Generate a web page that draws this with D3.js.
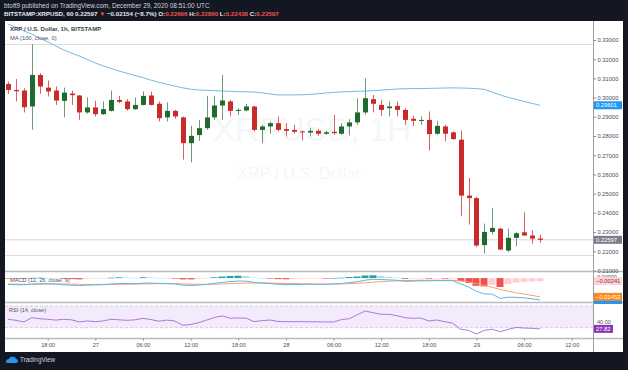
<!DOCTYPE html>
<html><head><meta charset="utf-8">
<script src="https://cdn.jsdelivr.net/npm/d3@7"></script>
<style>body{margin:0;background:#131722}svg{display:block;font-family:"Liberation Sans",Arial,sans-serif}</style>
</head><body>
<svg id="c" width="628" height="370"></svg>
<script>
// ---------- DATA ----------
const startTime = "2020-12-26T13:00:00Z"; // first visible hourly candle
const open = [.3071,.3040,.3037,.2954,.3118,.3052,.3037,.2983,.3021,.3011,
.2923,.2949,.2914,.2931,.2988,.2980,.2940,.2962,.3011,.2968,
.2897,.2931,.2897,.2763,.2805,.2841,.2897,.2959,.2980,.2931,
.2933,.2954,.2832,.2850,.2867,.2836,.2832,.2824,.2818,.2827,
.2812,.2822,.2812,.2850,.2871,.2923,.2992,.2962,.2945,.2957,
.2936,.2890,.2879,.2884,.2812,.2850,.2819,.2781,.2490,.2477,
.2232,.2301,.2318,.2204,.2270,.2299,.2282,.22666];
const high = [.3084,.3097,.3049,.3279,.3127,.3089,.3058,.3052,.3037,.3014,
.3002,.2983,.2980,.3037,.3009,.2992,.3000,.3032,.3032,.2980,
.2975,.2936,.2902,.2853,.2884,.3009,.3009,.3118,.2988,.2945,
.2967,.2957,.2858,.2876,.2902,.2867,.2858,.2829,.2841,.2836,
.2827,.2910,.2867,.2888,.2997,.3101,.3014,.2988,.2980,.2980,
.2945,.2905,.2902,.2928,.2879,.2858,.2824,.2829,.2581,.2483,
.2344,.2426,.2322,.2318,.2299,.2403,.2309,.22860];
const low = [.3020,.2980,.2923,.2833,.3020,.3006,.2962,.2897,.2962,.2884,
.2916,.2902,.2910,.2928,.2971,.2933,.2936,.2959,.2959,.2876,
.2876,.2890,.2677,.2663,.2775,.2833,.2884,.2884,.2902,.2910,
.2929,.2824,.2763,.2812,.2824,.2798,.2812,.2777,.2798,.2801,
.2806,.2806,.2806,.2803,.2858,.2910,.2923,.2905,.2902,.2902,
.2858,.2853,.2858,.2725,.2806,.2772,.2781,.2382,.2339,.2223,
.2188,.2287,.2206,.2195,.2226,.2282,.2240,.22438];
const close = [.3040,.3033,.2950,.3118,.3058,.3032,.2985,.3026,.3013,.2923,
.2949,.2914,.2940,.2988,.2978,.2940,.2962,.3009,.2962,.2893,
.2931,.2902,.2763,.2801,.2841,.2897,.2959,.2985,.2931,.2936,
.2954,.2832,.2850,.2867,.2832,.2827,.2822,.2820,.2827,.2812,
.2820,.2815,.2850,.2871,.2923,.2997,.2968,.2936,.2954,.2936,
.2884,.2879,.2884,.2810,.2853,.2812,.2784,.2490,.2477,.2230,
.2301,.2322,.2209,.2270,.2294,.2282,.2266,.22597];
const ma100 = [.3383,.3365,.3347,.3331,.3310,.3290,.3269,.3248,.3232,.3216,
.3198,.3180,.3165,.3152,.3138,.3127,.3115,.3104,.3091,.3080,
.3070,.3060,.3051,.3044,.3040,.3038,.3036,.3035,.3033,.3031,
.3030,.3029,.3025,.3019,.3014,.3014,.3014,.3015,.3017,.3020,
.3024,.3027,.3030,.3031,.3033,.3034,.3036,.3039,.3042,.3045,
.3046,.3047,.3047,.3048,.3049,.3050,.3051,.3050,.3049,.3047,
.3043,.3028,.3014,.3001,.2991,.2980,.2970,.29601];
const macd = [-0.0050,-0.0051,-0.0052,-0.0046,-0.0044,-0.0044,-0.0046,-0.0052,-0.0055,-0.0058,
-0.0055,-0.0053,-0.0051,-0.0046,-0.0042,-0.0043,-0.0044,-0.0039,-0.0039,-0.0041,
-0.0043,-0.0045,-0.0055,-0.0057,-0.0054,-0.0049,-0.0041,-0.0033,-0.0027,-0.0023,
-0.0024,-0.0034,-0.0038,-0.0042,-0.0048,-0.0051,-0.0050,-0.0049,-0.0048,-0.0048,
-0.0048,-0.0046,-0.0042,-0.0035,-0.0028,-0.0016,-0.0010,-0.0011,-0.0014,-0.0017,
-0.0025,-0.0023,-0.0021,-0.0021,-0.0020,-0.0020,-0.0019,-0.0045,-0.0068,-0.0103,
-0.0122,-0.0125,-0.0157,-0.0148,-0.0149,-0.0153,-0.0160,-0.01693];
const signal = [-0.0046,-0.0047,-0.0048,-0.0048,-0.0047,-0.0046,-0.0046,-0.0046,-0.0047,-0.0048,
-0.0049,-0.0049,-0.0049,-0.0049,-0.0048,-0.0047,-0.0046,-0.0045,-0.0044,-0.0043,
-0.0043,-0.0043,-0.0045,-0.0047,-0.0048,-0.0048,-0.0047,-0.0045,-0.0043,-0.0041,
-0.0039,-0.0038,-0.0038,-0.0039,-0.0040,-0.0042,-0.0043,-0.0044,-0.0045,-0.0046,
-0.0046,-0.0046,-0.0045,-0.0043,-0.0040,-0.0036,-0.0032,-0.0027,-0.0024,-0.0021,
-0.0019,-0.0018,-0.0017,-0.0017,-0.0017,-0.0017,-0.0017,-0.0022,-0.0030,-0.0043,
-0.0058,-0.0072,-0.0088,-0.0102,-0.0114,-0.0124,-0.0134,-0.01452];
const hist = [-0.0004,-0.0004,-0.0004,0.0002,0.0003,0.0002,0.0000,-0.0006,-0.0008,-0.0010,
-0.0006,-0.0004,-0.0002,0.0003,0.0006,0.0004,0.0002,0.0006,0.0005,0.0002,
0.0000,-0.0002,-0.0010,-0.0010,-0.0006,-0.0001,0.0006,0.0012,0.0016,0.0018,
0.0015,0.0004,0.0000,-0.0003,-0.0008,-0.0009,-0.0007,-0.0005,-0.0003,-0.0002,
-0.0002,0.0000,0.0003,0.0008,0.0012,0.0020,0.0022,0.0016,0.0010,0.0004,
-0.0006,-0.0005,-0.0004,-0.0004,-0.0003,-0.0003,-0.0002,-0.0023,-0.0038,-0.0060,
-0.0064,-0.0053,-0.0069,-0.0046,-0.0035,-0.0029,-0.0026,-0.00241];
const rsi = [45.5,43.6,40.5,48.5,46.5,45.5,44.0,45.5,44.5,40.5,
42.5,41.0,42.5,45.5,44.5,43.6,44.5,47.3,45.0,42.0,
44.0,42.5,34.4,36.0,39.2,44.0,49.0,51.6,47.5,48.0,
47.5,41.1,43.0,44.2,41.5,41.1,41.1,41.1,41.0,40.8,
40.7,40.5,45.0,46.6,54.0,60.8,57.5,54.7,54.7,52.0,
48.5,47.3,47.8,42.4,44.2,41.0,38.5,27.0,25.2,18.5,
25.2,27.0,22.6,27.0,30.5,29.4,28.9,27.82];
const priceTicks = [0.21,0.22,0.23,0.24,0.25,0.26,0.27,0.28,0.29,0.30,0.31,0.32,0.33];
const hLevels = [0.3279, 0.2183];
const timeTicks = ["2020-12-26T18:00Z","2020-12-27T00:00Z","2020-12-27T06:00Z","2020-12-27T12:00Z",
"2020-12-27T18:00Z","2020-12-28T00:00Z","2020-12-28T06:00Z","2020-12-28T12:00Z",
"2020-12-28T18:00Z","2020-12-29T00:00Z","2020-12-29T06:00Z","2020-12-29T12:00Z"];
const timeLabels = ["18:00","27","06:00","12:00","18:00","28","06:00","12:00","18:00","29","06:00","12:00"];
const rsiLevels = [70, 30];

// ---------- LAYOUT ----------
const W=628,H=370;
const L=5, R=593, AXR=623;
const P={top:21,bot:271}, M={top:272,bot:302}, Q={top:303,bot:338}, T={top:338,bot:352};
const svg=d3.select("#c");
svg.append("rect").attr("width",W).attr("height",H).attr("fill","#131722");
svg.append("rect").attr("x",L).attr("y",P.top).attr("width",AXR-L).attr("height",T.bot-P.top).attr("fill","#ffffff");

const t0 = new Date(startTime);
const times = open.map((d,i)=>d3.utcHour.offset(t0,i));
const x = d3.scaleUtc().domain([times[0], times[times.length-1]]).range([8,540]);
const y = d3.scaleLinear().domain([0.21,0.33]).range([270.5,40]);
const ym = d3.scaleLinear().domain([-0.0185,0.0047]).range([302,272]);
const yr = d3.scaleLinear().domain([30,70]).range([327.7,306]);
const data = open.map((o,i)=>({t:times[i],o,h:high[i],l:low[i],c:close[i],ma:ma100[i],m:macd[i],s:signal[i],hs:hist[i],r:rsi[i]}));

const defs=svg.append("defs");
function clip(id,top,bot){defs.append("clipPath").attr("id",id).append("rect").attr("x",L).attr("y",top).attr("width",R-L).attr("height",bot-top);}
clip("cp",P.top,P.bot);clip("cm",M.top,M.bot);clip("cq",Q.top,Q.bot);

// watermark
const gp=svg.append("g").attr("clip-path","url(#cp)");
gp.append("text").attr("x",312).attr("y",141).attr("text-anchor","middle").attr("font-size",33).attr("fill","#f5f6f8").text("XRPUSD, 1H");
gp.append("text").attr("x",299).attr("y",179).attr("text-anchor","middle").attr("font-size",16).attr("fill","#f5f6f8").text("XRP / U.S. Dollar");

// horizontal levels
gp.selectAll("line.lv").data(hLevels).enter().append("line")
 .attr("x1",L).attr("x2",R).attr("y1",d=>Math.round(y(d))+0.5).attr("y2",d=>Math.round(y(d))+0.5)
 .attr("stroke","#dedede").attr("stroke-width",1);
// last price line
gp.append("line").attr("x1",L).attr("x2",R).attr("y1",y(close[close.length-1])).attr("y2",y(close[close.length-1]))
 .attr("stroke","#d4d4d4").attr("stroke-width",1);

// MA
gp.append("path").datum(data).attr("fill","none").attr("stroke","#74b9e8").attr("stroke-width",1)
 .attr("d",d3.line().x(d=>x(d.t)).y(d=>y(d.ma)));

// candles
const up="#1f6a2c", dn="#c92a2a";
const cg=gp.selectAll("g.c").data(data).enter().append("g");
cg.append("line").attr("x1",d=>Math.round(x(d.t))+0.5).attr("x2",d=>Math.round(x(d.t))+0.5)
 .attr("y1",d=>y(d.h)).attr("y2",d=>y(d.l))
 .attr("stroke",d=>d.c>=d.o?"#6f9a74":"#d9605f").attr("stroke-width",1);
cg.append("rect").attr("x",d=>Math.round(x(d.t))-2).attr("width",5)
 .attr("y",d=>y(Math.max(d.o,d.c))).attr("height",d=>Math.max(1,Math.abs(y(d.o)-y(d.c))))
 .attr("fill",d=>d.c>=d.o?up:dn);

// legend
svg.append("text").attr("x",10).attr("y",31).attr("font-size",6).attr("font-weight","bold").attr("fill","#3a3e48").text("XRP / U.S. Dollar, 1h, BITSTAMP");
svg.append("text").attr("x",10).attr("y",39.5).attr("font-size",5.8).attr("fill","#50535e").text("MA (100, close, 0)");

// ---------- MACD ----------
const gm=svg.append("g").attr("clip-path","url(#cm)");
const zero=ym(0);
gm.selectAll("rect").data(data).enter().append("rect")
 .attr("x",d=>Math.round(x(d.t))-3.5).attr("width",7)
 .attr("y",d=>Math.min(zero,ym(d.hs))).attr("height",d=>Math.max(0.6,Math.abs(ym(d.hs)-zero)))
 .attr("fill",(d,i)=>{const p=i>0?hist[i-1]:d.hs; if(d.hs>=0) return p<d.hs?"#26a69a":"#b2dfdb"; return p<d.hs?"#ffcdd2":"#ef5350";});
gm.append("path").datum(data).attr("fill","none").attr("stroke","#f4a56a").attr("stroke-width",1)
 .attr("d",d3.line().x(d=>x(d.t)).y(d=>ym(d.s)));
gm.append("path").datum(data).attr("fill","none").attr("stroke","#5fb3ec").attr("stroke-width",1)
 .attr("d",d3.line().x(d=>x(d.t)).y(d=>ym(d.m)));
svg.append("text").attr("x",10).attr("y",282).attr("font-size",5.6).attr("fill","#50535e").text("MACD (12, 26, close, 9)");

// ---------- RSI ----------
const gq=svg.append("g").attr("clip-path","url(#cq)");
gq.append("rect").attr("x",L).attr("width",R-L).attr("y",yr(70)).attr("height",yr(30)-yr(70)).attr("fill","#f3eafb");
gq.selectAll("line.rl").data(rsiLevels).enter().append("line")
 .attr("x1",L).attr("x2",R).attr("y1",d=>yr(d)).attr("y2",d=>yr(d))
 .attr("stroke","#c9c2d4").attr("stroke-width",0.8).attr("stroke-dasharray","3,2");
gq.append("path").datum(data).attr("fill","none").attr("stroke","#a77bd6").attr("stroke-width",1)
 .attr("d",d3.line().x(d=>x(d.t)).y(d=>yr(d.r)));
svg.append("text").attr("x",9).attr("y",312).attr("font-size",5.6).attr("fill","#50535e").text("RSI (14, close)");

// separators
[P.bot+0.5,M.bot+0.5,Q.bot+0.5].forEach(v=>svg.append("line").attr("x1",L).attr("x2",AXR).attr("y1",v).attr("y2",v).attr("stroke","#b9bbbf").attr("stroke-width",1.6));
svg.append("line").attr("x1",R+0.5).attr("x2",R+0.5).attr("y1",P.top).attr("y2",T.bot).attr("stroke","#9a9ca2").attr("stroke-width",1);

// price axis
const ax=svg.append("g").attr("transform",`translate(${R+0.5},0)`)
 .call(d3.axisRight(y).tickValues(priceTicks).tickFormat(d3.format(".5f")).tickSize(2.5).tickPadding(1.5));
ax.select(".domain").remove();
ax.selectAll("line").attr("stroke","#8a8d94");
ax.selectAll("text").attr("font-size",5.8).attr("fill","#4a4e59").attr("font-family","Liberation Sans, Arial, sans-serif");

function tag(yc,txt,bg,fg,w){
 svg.append("rect").attr("x",R+1).attr("y",yc-4).attr("width",w||28).attr("height",8).attr("fill",bg);
 svg.append("text").attr("x",R+3).attr("y",yc+2).attr("font-size",5.8).attr("fill",fg).text(txt);
}
tag(y(ma100[ma100.length-1]),d3.format(".5f")(ma100[ma100.length-1]),"#2196f3","#ffffff");
tag(y(close[close.length-1]),d3.format(".5f")(close[close.length-1]),"#7b7e88","#ffffff");

// macd axis labels
svg.append("text").attr("x",R+4).attr("y",ym(0)+0.5).attr("font-size",5.5).attr("fill","#4a4e59").text("0.00000");
svg.append("rect").attr("x",R+1).attr("y",ym(macd[67])-4).attr("width",28).attr("height",8).attr("fill","#2196f3");
tag(ym(hist[67]),d3.format(".5f")(hist[67]),"#ffd3d8","#7a3a40");
tag(ym(signal[67]),d3.format(".5f")(signal[67]),"#ff8a1c","#ffffff");
// rsi axis labels
svg.append("text").attr("x",R+4).attr("y",yr(40)+2).attr("font-size",5.5).attr("fill","#4a4e59").text("40.00");
tag(yr(rsi[67]),d3.format(".2f")(rsi[67]),"#8e35b8","#ffffff",19);

// time axis
const tx=svg.append("g").attr("transform",`translate(0,${T.top+0.5})`)
 .call(d3.axisBottom(x).tickValues(timeTicks.map(s=>new Date(s))).tickFormat((d,i)=>timeLabels[i]).tickSize(2).tickPadding(3));
tx.select(".domain").remove();
tx.selectAll("line").attr("stroke","#8a8d94");
tx.selectAll("text").attr("font-size",5.6).attr("fill","#4a4e59").attr("font-family","Liberation Sans, Arial, sans-serif");

// header
svg.append("text").attr("x",4).attr("y",8).attr("font-size",6.4).attr("fill","#d1d4dc").text("btoft9 published on TradingView.com, December 29, 2020 08:51:00 UTC");
const h2=svg.append("text").attr("x",4).attr("y",16).attr("font-size",6.2).attr("font-weight","bold").attr("fill","#e8eaf0");
h2.append("tspan").text("BITSTAMP:XRPUSD, 60 0.22597 ");
h2.append("tspan").attr("fill","#ef5350").text("\u25BC");
h2.append("tspan").text(" \u22120.02154 (\u22128.7%) O:");
h2.append("tspan").attr("fill","#ef5350").text("0.22666");
h2.append("tspan").text(" H:");
h2.append("tspan").attr("fill","#ef5350").text("0.22860");
h2.append("tspan").text(" L:");
h2.append("tspan").attr("fill","#ef5350").text("0.22438");
h2.append("tspan").text(" C:");
h2.append("tspan").attr("fill","#ef5350").text("0.22597");

// footer logo
const lg=svg.append("g").attr("transform","translate(6,356)");
lg.append("path").attr("d","M0,6 Q0,3 3,3 Q4,0 7,1 Q9,0 10,3 Q12,3 12,5 Q12,7 10,7 L2,7 Q0,7 0,6Z").attr("fill","#2196f3");
svg.append("text").attr("x",20).attr("y",362).attr("font-size",6.4).attr("fill","#d1d4dc").text("TradingView");
</script>
</body></html>
